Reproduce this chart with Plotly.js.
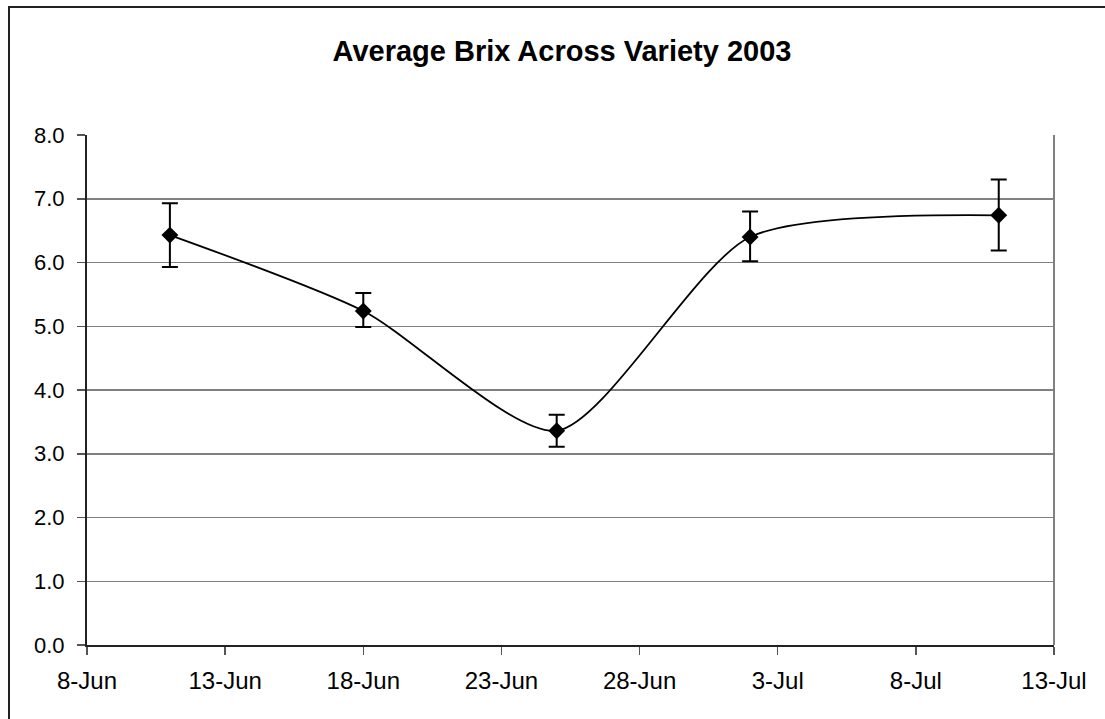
<!DOCTYPE html>
<html>
<head>
<meta charset="utf-8">
<script src="https://cdn.plot.ly/plotly-3.0.1.min.js"></script>
<style>
  html, body { margin:0; padding:0; background:#fff; overflow:hidden; }
  #wrap { position:relative; width:1105px; height:719px; }
  #chart { width:1105px; height:719px; }
  #frame { position:absolute; left:8px; top:6px; width:2000px; height:2000px;
           border:2px solid #222; pointer-events:none; }
</style>
</head>
<body>
<div id="wrap">
  <div id="chart"></div>
  <div id="frame"></div>
</div>
<script>
// Data
var dates = ['2003-06-11', '2003-06-18', '2003-06-25', '2003-07-02', '2003-07-11'];
var brix = [6.43, 5.24, 3.36, 6.40, 6.74];
var errPlus = [0.50, 0.28, 0.25, 0.40, 0.56];
var errMinus = [0.50, 0.25, 0.25, 0.38, 0.55];
var yTickVals = [0, 1, 2, 3, 4, 5, 6, 7, 8];
var chartTitle = 'Average Brix Across Variety 2003';

var trace = {
  x: dates,
  y: brix,
  type: 'scatter',
  mode: 'lines+markers',
  line: { shape: 'spline', smoothing: 0.7, color: '#000', width: 1.8 },
  marker: { symbol: 'diamond', size: 13, color: '#000' },
  error_y: {
    type: 'data', symmetric: false,
    array: errPlus, arrayminus: errMinus,
    color: '#000', thickness: 2, width: 8
  },
  hoverinfo: 'skip'
};

var fontFam = 'Liberation Sans, Arial, sans-serif';

var layout = {
  width: 1105, height: 719,
  margin: { l: 87, r: 51, t: 135, b: 74 },
  paper_bgcolor: '#fff', plot_bgcolor: '#fff',
  showlegend: false,
  title: {
    text: '<b>' + chartTitle + '</b>',
    font: { family: fontFam, size: 29, color: '#000' },
    x: 0.5086, xanchor: 'center', xref: 'container',
    y: 0.929, yanchor: 'middle', yref: 'container'
  },
  xaxis: {
    type: 'date',
    range: ['2003-06-08', '2003-07-13'],
    tick0: '2003-06-08', dtick: 5 * 86400000,
    tickformat: '%-d-%b',
    showgrid: false, zeroline: false,
    showline: true, linecolor: '#222', linewidth: 2,
    ticks: 'outside', ticklen: 8, tickcolor: '#555', tickwidth: 1.5,
    ticklabelstandoff: 5,
    tickfont: { family: fontFam, size: 24, color: '#000' },
    fixedrange: true
  },
  yaxis: {
    range: [0, 8],
    tickvals: yTickVals,
    tickformat: '.1f',
    showgrid: true, gridcolor: '#808080', gridwidth: 1.5,
    zeroline: false,
    showline: true, linecolor: '#222', linewidth: 2,
    ticks: 'outside', ticklen: 8, tickcolor: '#555', tickwidth: 1.5,
    ticklabelstandoff: 8,
    tickfont: { family: fontFam, size: 22, color: '#000' },
    fixedrange: true
  },
  shapes: [
    { type: 'line', xref: 'paper', yref: 'paper', x0: 1, x1: 1, y0: 0, y1: 1,
      line: { color: '#808080', width: 2 } }
  ]
};

Plotly.newPlot('chart', [trace], layout, { displayModeBar: false, staticPlot: true });
</script>
</body>
</html>
